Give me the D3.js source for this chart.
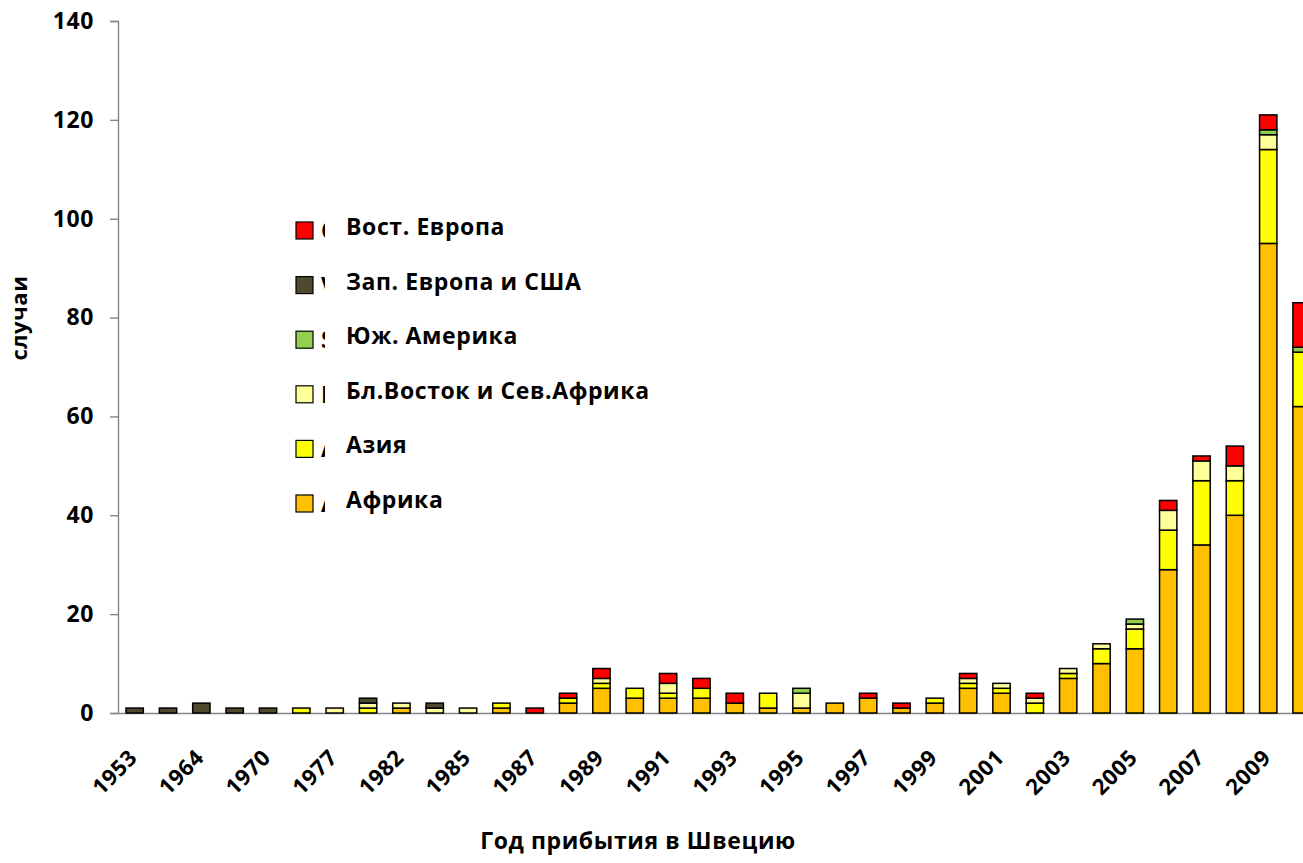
<!DOCTYPE html>
<html>
<head>
	<meta charset="utf-8" />
	<title>случаи по году прибытия</title>
	<script src="https://cdn.jsdelivr.net/npm/d3@7/dist/d3.min.js"></script>
	<style>
	body { margin: 0; background: #fff; }
	text { font-family: "Open Sans", "Noto Sans", sans-serif; font-weight: bold; fill: #000; letter-spacing: 0.6px; }
	.axis path, .axis line { stroke: #868686; stroke-width: 1.4; }
	</style>
</head>
<body>
<div id="chart"></div>
<script>

// years on the x axis (only every other one gets a label)
const years = [1953, 1960, 1964, 1968, 1970, 1975, 1977, 1980, 1982, 1984,
	1985, 1986, 1987, 1988, 1989, 1990, 1991, 1992, 1993, 1994,
	1995, 1996, 1997, 1998, 1999, 2000, 2001, 2002, 2003, 2004,
	2005, 2006, 2007, 2008, 2009, 2010];

// cases per region, bottom of the stack first
const afrika    = [0,0,0,0,0,0,0,0,1,0, 0,1,0,2,5,3,3,3,2,1, 1,2,3,1,2,5,4,0,7,10, 13,29,34,40,95,62];
const azija     = [0,0,0,0,0,1,0,1,0,0, 0,1,0,1,1,2,1,2,0,3, 0,0,0,0,1,1,1,2,1,3, 4,8,13,7,19,11];
const blVostok  = [0,0,0,0,0,0,1,1,1,1, 1,0,0,0,1,0,2,0,0,0, 3,0,0,0,0,1,1,1,1,1, 1,4,4,3,3,0];
const jugAmer   = [0,0,0,0,0,0,0,0,0,0, 0,0,0,0,0,0,0,0,0,0, 1,0,0,0,0,0,0,0,0,0, 1,0,0,0,1,1];
const zapEvropa = [1,1,2,1,1,0,0,1,0,1, 0,0,0,0,0,0,0,0,0,0, 0,0,0,0,0,0,0,0,0,0, 0,0,0,0,0,0];
const vostEvropa= [0,0,0,0,0,0,0,0,0,0, 0,0,1,1,2,0,2,2,2,0, 0,0,1,1,0,1,0,1,0,0, 0,2,1,4,3,9];

const keys = ["afrika", "azija", "blVostok", "jugAmer", "zapEvropa", "vostEvropa"];
const colors = ["#FFC000", "#FFFF00", "#FFFF99", "#92D050", "#4F4A2E", "#FF0000"];

// legend, top to bottom; first letters of the swedish originals peek out behind the russian labels
const legendRu = ["Вост. Европа", "Зап. Европа и США", "Юж. Америка", "Бл.Восток и Сев.Африка", "Азия", "Африка"];
const legendSv = ["Ö", "V", "S", "M", "A", "A"];

const yTicks = [0, 20, 40, 60, 80, 100, 120, 140];

let width = 1303, height = 863;

let svg = d3.select("#chart")
	.append("svg")
	.attr("width", width)
	.attr("height", height);

let rows = years.map((yr, i) => ({
	year: yr,
	afrika: afrika[i], azija: azija[i], blVostok: blVostok[i],
	jugAmer: jugAmer[i], zapEvropa: zapEvropa[i], vostEvropa: vostEvropa[i]
}));

let x = d3.scaleBand()
	.domain(years)
	.range([118, 118 + years.length * 33.34])
	.paddingInner(0.48)
	.paddingOuter(0.24);

let y = d3.scaleLinear()
	.domain([0, 140])
	.range([713, 21]);

let color = d3.scaleOrdinal().domain(keys).range(colors);

// y axis
svg.append("g")
	.attr("class", "axis")
	.attr("transform", "translate(118,0)")
	.call(d3.axisLeft(y).tickValues(yTicks).tickSize(8).tickPadding(16))
	.call(g => g.selectAll("text").style("font-size", "23px"));

// x axis, labels on every other bar
svg.append("g")
	.attr("class", "axis")
	.attr("transform", "translate(0,713)")
	.call(d3.axisBottom(x).tickSize(0).tickSizeOuter(0)
		.tickFormat((d, i) => i % 2 == 0 ? d : ""))
	.call(g => g.selectAll("text")
		.style("font-size", "22px")
		.attr("text-anchor", "end")
		.attr("x", 4)
		.attr("y", 46)
		.attr("dy", 0)
		.attr("transform", "rotate(-45,4,46)"));

// stacked bars
let series = d3.stack().keys(keys)(rows);

svg.append("g")
	.selectAll("g")
	.data(series)
	.enter().append("g")
	.attr("fill", d => color(d.key))
	.selectAll("rect")
	.data(d => d.filter(s => s[1] - s[0] > 0))
	.enter().append("rect")
	.attr("x", d => x(d.data.year))
	.attr("width", x.bandwidth())
	.attr("y", d => y(d[1]))
	.attr("height", d => y(d[0]) - y(d[1]))
	.attr("stroke", "#000")
	.attr("stroke-width", 1.5);

// legend
let legend = svg.append("g");

svg.append("clipPath")
	.attr("id", "peek")
	.append("rect")
	.attr("x", 318).attr("y", 0)
	.attr("width", 7).attr("height", height);

let rowY = d3.scalePoint().domain(d3.range(legendRu.length)).range([235, 508]);
let legendColors = colors.slice().reverse();

legend.selectAll("rect")
	.data(legendRu)
	.enter().append("rect")
	.attr("x", 296)
	.attr("y", (d, i) => rowY(i) - 13)
	.attr("width", 17)
	.attr("height", 17)
	.attr("fill", (d, i) => legendColors[i])
	.attr("stroke", "#000")
	.attr("stroke-width", 1.2);

legend.selectAll("text.sv")
	.data(legendSv)
	.enter().append("text")
	.attr("class", "sv")
	.attr("clip-path", "url(#peek)")
	.attr("x", 321)
	.attr("y", (d, i) => rowY(i) + 4)
	.style("font-size", "23px")
	.text(d => d);

legend.selectAll("text.ru")
	.data(legendRu)
	.enter().append("text")
	.attr("class", "ru")
	.attr("x", 346)
	.attr("y", (d, i) => rowY(i))
	.style("font-size", "23px")
	.text(d => d);

// axis titles
svg.append("text")
	.attr("x", 638)
	.attr("y", 849)
	.attr("text-anchor", "middle")
	.style("font-size", "23px")
	.text("Год прибытия в Швецию");

svg.append("text")
	.attr("transform", "translate(27,318) rotate(-90)")
	.attr("text-anchor", "middle")
	.style("font-size", "22px")
	.text("случаи");

</script>
</body>
</html>
